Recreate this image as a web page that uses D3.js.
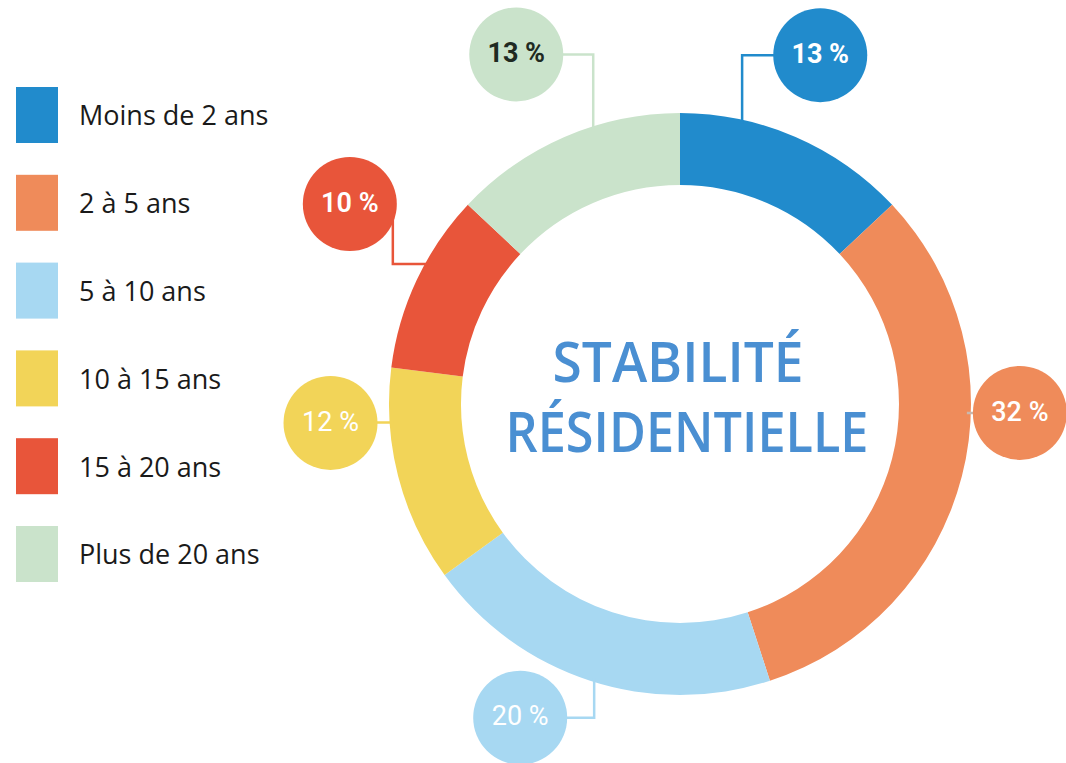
<!DOCTYPE html>
<html>
<head>
<meta charset="utf-8">
<script src="https://cdn.jsdelivr.net/npm/d3@7"></script>
<style>
  html, body { margin: 0; padding: 0; background: #fff; }
  #chart { width: 1066px; height: 763px; }
</style>
</head>
<body>
<div id="chart"></div>
<script>
// data
var categories = ["Moins de 2 ans", "2 à 5 ans", "5 à 10 ans", "10 à 15 ans", "15 à 20 ans", "Plus de 20 ans"];
var values = [13, 32, 20, 12, 10, 13];
var colors = ["#218bcc", "#ef8b5a", "#a7d8f2", "#f2d458", "#e8553a", "#cae3cb"];
var titleLines = ["STABILITÉ", "RÉSIDENTIELLE"];

// where each percent bubble sits, in polar terms round the donut centre
// angle/dist: bubble centre, anchor: where the leader line leaves the ring
var bubbleLayout = [
  {angle: 21.9,  dist: 376, anchor: 12.5,  mode: "v", off: 0,  weight: 700, ink: "#ffffff"},
  {angle: 91.5,  dist: 340, anchor: 91.8,  mode: "h", off: 0,  weight: 500, ink: "#ffffff"},
  {angle: 207.0, dist: 352, anchor: 197.4, mode: "v", off: 0,  weight: 400, ink: "#ffffff"},
  {angle: 266.9, dist: 350, anchor: 266.3, mode: "h", off: 0,  weight: 400, ink: "#ffffff"},
  {angle: 301.2, dist: 386, anchor: 299.2, mode: "h", off: 43, weight: 600, ink: "#ffffff"},
  {angle: 334.9, dist: 386, anchor: 342.4, mode: "v", off: 0,  weight: 700, ink: "#1f2a22"}
];

var width = 1066, height = 763;
var cx = 680, cy = 404;
var outerR = 291, innerR = 219, bubbleR = 47;

var svg = d3.select("#chart").append("svg")
  .attr("width", width)
  .attr("height", height);

var color = d3.scaleOrdinal().domain(categories).range(colors);

// legend
var legendY = d3.scalePoint().domain(categories).range([87, 526]);

var entries = svg.append("g")
  .selectAll("g")
  .data(categories)
  .enter().append("g")
  .attr("transform", function(d) { return "translate(16," + legendY(d) + ")"; });

entries.append("rect")
  .attr("width", 42)
  .attr("height", 56)
  .style("fill", function(d) { return color(d); });

entries.append("text")
  .attr("x", 63)
  .attr("y", 29)
  .attr("dy", "0.35em")
  .style("font-family", "'Open Sans', sans-serif")
  .style("font-size", "27px")
  .style("fill", "#1a1a1a")
  .text(function(d) { return d; });

// donut
var pie = d3.pie().sort(null).value(function(d) { return d; });
var arcs = pie(values);

var arc = d3.arc()
  .innerRadius(innerR)
  .outerRadius(outerR);

var canvas = svg.append("g")
  .attr("transform", "translate(" + cx + "," + cy + ")");

canvas.selectAll("path.slice")
  .data(arcs)
  .enter().append("path")
  .attr("class", "slice")
  .attr("d", arc)
  .style("fill", function(d, i) { return color(categories[i]); });

// polar helper: angle in degrees clockwise from 12 o'clock
function polar(deg, r) {
  var a = deg * Math.PI / 180;
  return [r * Math.sin(a), -r * Math.cos(a)];
}

// leader lines
var lines = canvas.append("g");
var bubbles = canvas.append("g");

bubbleLayout.forEach(function(b, i) {
  var c = polar(b.angle, b.dist);
  var p = polar(b.anchor, outerR - 4);
  var pts;
  if (b.mode === "v") {
    pts = [p, [p[0], c[1]], c];
  } else {
    pts = [p, [c[0] + b.off, p[1]], [c[0] + b.off, c[1]]];
  }
  lines.append("path")
    .attr("d", d3.line()(pts))
    .style("fill", "none")
    .style("stroke", i === 1 ? "#c9b8ae" : color(categories[i]))
    .style("stroke-width", 2.5);

  var g = bubbles.append("g")
    .attr("transform", "translate(" + c[0] + "," + c[1] + ")");
  g.append("circle")
    .attr("r", bubbleR)
    .style("fill", color(categories[i]));
  g.append("text")
    .attr("text-anchor", "middle")
    .attr("dy", "0.36em")
    .attr("y", -2)
    .style("font-family", "Roboto, sans-serif")
    .style("font-size", "27px")
    .style("font-weight", b.weight)
    .style("fill", b.ink)
    .text(values[i] + " %");
});

// centre title
canvas.append("text")
  .attr("x", -2)
  .attr("y", -22)
  .attr("text-anchor", "middle")
  .attr("textLength", 251)
  .attr("lengthAdjust", "spacingAndGlyphs")
  .style("font-family", "'Open Sans', sans-serif")
  .style("font-size", "56px")
  .style("font-weight", 600)
  .style("fill", "#4a8fd2")
  .text(titleLines[0]);

canvas.append("text")
  .attr("x", 7)
  .attr("y", 48)
  .attr("text-anchor", "middle")
  .attr("textLength", 363)
  .attr("lengthAdjust", "spacingAndGlyphs")
  .style("font-family", "'Open Sans', sans-serif")
  .style("font-size", "56px")
  .style("font-weight", 600)
  .style("fill", "#4a8fd2")
  .text(titleLines[1]);
</script>
</body>
</html>
